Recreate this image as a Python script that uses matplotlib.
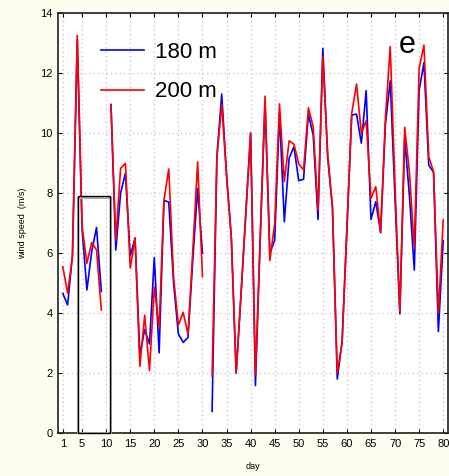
import numpy as np
import matplotlib
matplotlib.use("Agg")
import matplotlib.pyplot as plt
from matplotlib.patches import Rectangle

nan = np.nan

#days and wind speed at the two heights (gaps = no data)
day = list(range(1, 81))
speed_180 = [4.65, 4.27, 5.93, 13.1, 6.8, 4.77, 6.05, 6.85, 4.72, nan,
             10.95, 6.1, 8.0, 8.66, 5.9, 6.5, 2.6, 3.45, 2.97, 5.85,
             2.67, 7.75, 7.7, 5.0, 3.3, 3.02, 3.18, 5.8, 8.15, 6.0,
             nan, 0.72, 9.2, 11.3, 8.6, 6.5, 2.0, 4.6, 7.3, 10.0,
             1.58, 6.5, 11.0, 6.0, 6.43, 10.66, 7.04, 9.16, 9.54, 8.41,
             8.46, 10.63, 9.93, 7.12, 12.82, 9.2, 7.5, 1.8, 3.05, 6.8,
             10.6, 10.63, 9.66, 11.41, 7.12, 7.71, 6.68, 10.3, 11.74, 7.8,
             3.97, 9.82, 7.88, 5.43, 11.43, 12.34, 8.93, 8.69, 3.38, 6.4]
speed_200 = [5.54, 4.66, 5.88, 13.25, 6.88, 5.66, 6.35, 6.1, 4.1, nan,
             10.93, 6.43, 8.82, 8.99, 5.5, 6.5, 2.22, 3.93, 2.08, 4.87,
             3.53, 7.75, 8.8, 5.2, 3.6, 4.02, 3.29, 6.1, 9.04, 5.21,
             nan, 1.9, 9.2, 10.95, 8.6, 6.5, 2.0, 4.6, 7.3, 9.99,
             1.93, 6.5, 11.23, 5.75, 6.99, 10.97, 8.38, 9.74, 9.63, 8.97,
             8.77, 10.84, 10.21, 7.43, 12.54, 9.32, 7.54, 2.0, 3.0, 6.8,
             10.66, 11.63, 9.99, 10.41, 7.82, 8.21, 6.68, 10.5, 12.88, 8.2,
             4.04, 10.19, 8.66, 6.16, 12.16, 12.93, 9.21, 8.71, 3.99, 7.1]
series_labels = ["180 m", "200 m"]
x_ticks = [1, 5, 10, 15, 20, 25, 30, 35, 40, 45, 50, 55, 60, 65, 70, 75, 80]
y_ticks = [0, 2, 4, 6, 8, 10, 12, 14]
#highlighted period (days, upper speed)
box_days = [4.1, 10.8]
box_top = 7.9

plt.rcParams['font.family'] = ['Liberation Sans', 'DejaVu Sans']

fig = plt.figure(figsize=(4.49, 4.76), dpi=100, facecolor='#fffcf0')
ax = fig.add_axes([0.1292, 0.0903, 0.8686, 0.8824])
ax.set_facecolor('white')

ax.plot(day, speed_180, color='#0000ff', linewidth=1.2, label=series_labels[0], zorder=3)
ax.plot(day, speed_200, color='#ff0000', linewidth=1.2, label=series_labels[1], zorder=4)

#box around the first period
ax.add_patch(Rectangle((box_days[0] + 0.15, 0), box_days[1] - box_days[0], box_top - 0.05,
                       fill=False, edgecolor='#b0b0b0', linewidth=1.5, zorder=5, clip_on=False))
ax.add_patch(Rectangle((box_days[0], 0), box_days[1] - box_days[0], box_top,
                       fill=False, edgecolor='black', linewidth=1.0, zorder=6, clip_on=False))

ax.set_xlim(0, 81)
ax.set_ylim(0, 14)
ax.set_xticks(x_ticks)
ax.set_yticks(y_ticks)
ax.tick_params(direction='in', length=3, width=0.8, top=True, right=True,
               labelsize=8, pad=4)
ax.grid(True, color='#c4c4c4', linestyle=(0, (1, 2.5)), linewidth=0.9)
for s in ax.spines.values():
    s.set_linewidth(1.2)
    s.set_color('#202020')

ax.set_xlabel("day", fontsize=6.5, labelpad=10)
ax.set_ylabel("wind speed  (m/s)", fontsize=6.5, labelpad=9)

ax.legend(loc='upper left', bbox_to_anchor=(0.06, 0.978), frameon=False,
          fontsize=16, handlelength=1.9, handletextpad=0.52, labelspacing=0.82)
ax.text(0.895, 0.924, "e", transform=ax.transAxes, fontsize=22, ha='center', va='center')

plt.savefig("out.png", dpi=100, facecolor=fig.get_facecolor())
